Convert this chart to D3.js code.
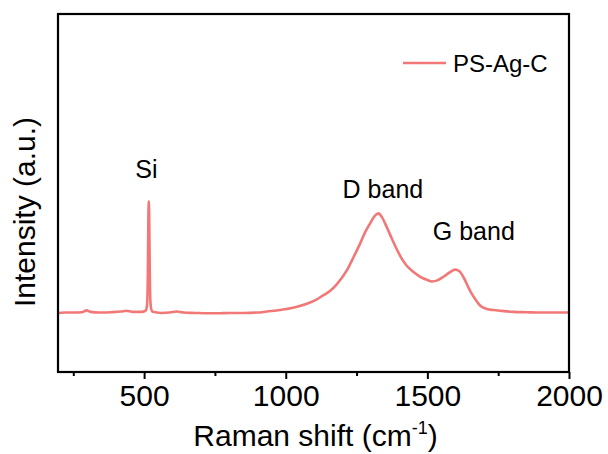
<!DOCTYPE html>
<html><head><meta charset="utf-8">
<script src="https://cdn.jsdelivr.net/npm/d3@7"></script>
<style>
body{margin:0;background:#fff;}
svg text{font-family:Arial,"Liberation Sans",sans-serif;fill:#000;}
</style></head>
<body><svg id="c" width="608" height="454"></svg>
<script>
const ramanShift = [196,220,250,280,297,310,340,380,420,437,460,490,505,510,513,515,516.5,518,520,522,525,530,560,590,614,640,680,720,760,800,850,900,933,980,1003,1040,1086,1110,1132,1156,1180,1215,1240,1262,1280,1297,1315,1327,1340,1357,1375,1392,1410,1428,1450,1475,1500,1516,1535,1557,1580,1598,1612,1628,1645,1657,1672,1687,1710,1734,1770,1804,1850,1900,1950,2000];
const intensity = [165,166,166,167,172,168,166,167,169,171,168,168,171,185,260,420,477,430,280,200,176,168,165,166,169,166,165,164,164,165,165,166,169,173,176,182,194,203,214,226,245,283,322,358,390,414,437,443,432,404,372,343,316,296,280,266,257,253,256,266,279,286,282,264,236,218,200,185,176,173,170,168,167,166,166,166];
const majorTicks = [500,1000,1500,2000];
const minorTicks = [250,750,1250,1750];
const seriesName = "PS-Ag-C";
const annotations = [{text:"Si", x:508, y:542},{text:"D band", x:1343, y:486},{text:"G band", x:1664, y:369}];

const svg = d3.select("#c");
const L=58, R=569, T=14, B=372;
const x = d3.scaleLinear().domain([196,2000]).range([L,R]);
const y = d3.scaleLinear().domain([0,1000]).range([B,T]);
const color = "#f27878";

const data = ramanShift.map((v,i)=>({x:v,y:intensity[i]}));
svg.append("path").datum(data)
  .attr("fill","none").attr("stroke",color).attr("stroke-width",2.6)
  .attr("stroke-linejoin","round")
  .attr("d", d3.line().x(d=>x(d.x)).y(d=>y(d.y)).curve(d3.curveMonotoneX));

// frame
svg.append("rect").attr("x",L).attr("y",T).attr("width",R-L).attr("height",B-T)
  .attr("fill","none").attr("stroke","#000").attr("stroke-width",2.2);

// bottom axis
const ax = svg.append("g").attr("transform",`translate(0,${B})`)
  .call(d3.axisBottom(x).tickValues(majorTicks).tickSize(7).tickPadding(6).tickFormat(d3.format("d")));
ax.select(".domain").remove();
ax.selectAll(".tick line").attr("stroke","#000").attr("stroke-width",2);
ax.selectAll(".tick text").style("font-size","30px").attr("font-family",null);
const axm = svg.append("g").attr("transform",`translate(0,${B})`)
  .call(d3.axisBottom(x).tickValues(minorTicks).tickSize(4).tickFormat(""));
axm.select(".domain").remove();
axm.selectAll(".tick line").attr("stroke","#000").attr("stroke-width",2);

// titles
const xt = svg.append("text").attr("x",(L+R)/2+2).attr("y",446).attr("text-anchor","middle").style("font-size","30px");
xt.append("tspan").text("Raman shift (cm");
xt.append("tspan").text("-1").attr("dy",-12).style("font-size","18px");
xt.append("tspan").text(")").attr("dy",12);

svg.append("text").attr("transform","translate(35,212) rotate(-90)").attr("text-anchor","middle")
  .style("font-size","30px").text("Intensity (a.u.)");

// annotations
svg.selectAll(".ann").data(annotations).enter().append("text")
  .attr("x",d=>x(d.x)).attr("y",d=>y(d.y)).attr("text-anchor","middle")
  .style("font-size","25px").text(d=>d.text);

// legend
svg.append("line").attr("x1",403).attr("x2",446).attr("y1",63).attr("y2",63)
  .attr("stroke",color).attr("stroke-width",2.6);
svg.append("text").attr("x",453).attr("y",72).style("font-size","24px").text(seriesName);
</script></body></html>
